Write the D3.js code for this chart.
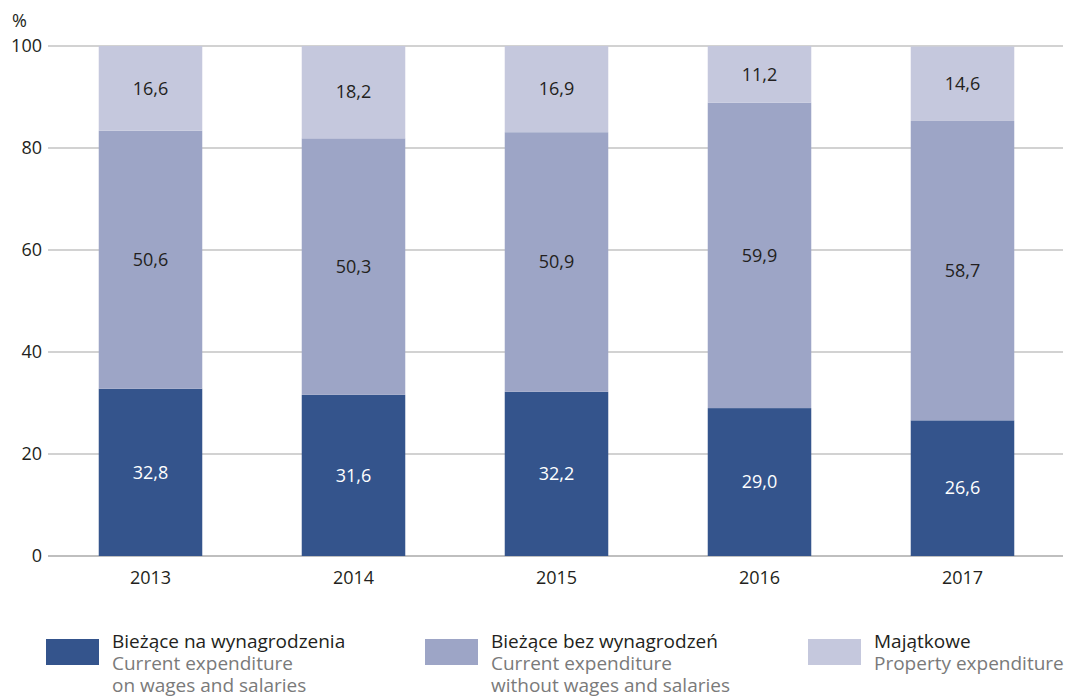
<!DOCTYPE html>
<html>
<head>
<meta charset="utf-8">
<script src="https://cdn.jsdelivr.net/npm/d3@7"></script>
<style>
  body { margin: 0; background: #fff; }
  text { font-family: "Open Sans", "Noto Sans", sans-serif; }
</style>
</head>
<body>
<div id="content"></div>
<script>
// Data.
var years = ["2013", "2014", "2015", "2016", "2017"];
var wages = [32.8, 31.6, 32.2, 29.0, 26.6];
var noWages = [50.6, 50.3, 50.9, 59.9, 58.7];
var property = [16.6, 18.2, 16.9, 11.2, 14.6];
var yTicks = [0, 20, 40, 60, 80, 100];

var seriesNames = [
  {pl : "Bieżące na wynagrodzenia", en : ["Current expenditure", "on wages and salaries"]},
  {pl : "Bieżące bez wynagrodzeń", en : ["Current expenditure", "without wages and salaries"]},
  {pl : "Majątkowe", en : ["Property expenditure"]}
];
var colors = ["#34548c", "#9da5c6", "#c5c8dd"];
var labelColors = ["#ffffff", "#231f20", "#231f20"];

var width = 1066, height = 699;

var svg = d3.select('#content')
              .append('svg')
              .attr('width', width)
              .attr('height', height);

// Table for stacking.
var table = years.map(function(y, i) {
  return {year : y, s0 : wages[i], s1 : noWages[i], s2 : property[i]};
});
var stack = d3.stack().keys(["s0", "s1", "s2"])(table);

// Scales.
var x = d3.scaleBand()
          .domain(years)
          .range([ 49, 1064 ])
          .paddingInner(0.49)
          .paddingOuter(0.245);

var y = d3.scaleLinear().domain([ 0, 100 ]).range([ 556, 46 ]);

// Grid lines.
svg.append('g')
    .selectAll('line')
    .data(yTicks)
    .join('line')
    .attr('x1', 48)
    .attr('x2', 1063)
    .attr('y1', function(d) { return y(d); })
    .attr('y2', function(d) { return y(d); })
    .attr('stroke', function(d) { return d === 0 ? '#808080' : '#a6a6a6'; })
    .attr('stroke-width', 1.2);

// Y axis labels.
svg.append('g')
    .selectAll('text')
    .data(yTicks)
    .join('text')
    .attr('x', 42)
    .attr('y', function(d) { return y(d); })
    .attr('dy', '0.35em')
    .attr('text-anchor', 'end')
    .attr('font-size', 18)
    .attr('fill', '#231f20')
    .text(function(d) { return d; });

svg.append('text')
    .attr('x', 12)
    .attr('y', 27)
    .attr('font-size', 18)
    .attr('fill', '#231f20')
    .text('%');

// Bars.
var layers = svg.append('g')
    .selectAll('g')
    .data(stack)
    .join('g')
    .attr('fill', function(d, i) { return colors[i]; });

layers.selectAll('rect')
    .data(function(d) { return d; })
    .join('rect')
    .attr('x', function(d) { return x(d.data.year); })
    .attr('width', x.bandwidth())
    .attr('y', function(d) { return y(Math.min(d[1], 100)); })
    .attr('height', function(d) { return y(d[0]) - y(Math.min(d[1], 100)); });

// Value labels.
var fmt = function(v) { return v.toFixed(1).replace('.', ','); };
stack.forEach(function(layer, i) {
  svg.append('g')
      .selectAll('text')
      .data(layer)
      .join('text')
      .attr('x', function(d) { return x(d.data.year) + x.bandwidth() / 2; })
      .attr('y', function(d) { return (y(d[0]) + y(Math.min(d[1], 100))) / 2; })
      .attr('dy', '0.35em')
      .attr('text-anchor', 'middle')
      .attr('font-size', 18)
      .attr('fill', labelColors[i])
      .text(function(d) { return fmt(d[1] - d[0]); });
});

// X axis labels.
svg.append('g')
    .selectAll('text')
    .data(years)
    .join('text')
    .attr('x', function(d) { return x(d) + x.bandwidth() / 2; })
    .attr('y', 584)
    .attr('text-anchor', 'middle')
    .attr('font-size', 18)
    .attr('fill', '#231f20')
    .text(function(d) { return d; });

// Legend.
var legendX = [46, 425, 808];
var legend = svg.append('g')
    .selectAll('g')
    .data(seriesNames)
    .join('g')
    .attr('transform', function(d, i) { return 'translate(' + legendX[i] + ',0)'; });

legend.append('rect')
    .attr('x', 0)
    .attr('y', 639)
    .attr('width', 53)
    .attr('height', 26)
    .attr('fill', function(d, i) { return colors[i]; });

legend.append('text')
    .attr('x', 66)
    .attr('y', 648)
    .attr('font-size', 19)
    .attr('fill', '#231f20')
    .text(function(d) { return d.pl; });

legend.each(function(d) {
  d3.select(this).selectAll('text.en')
      .data(d.en)
      .join('text')
      .attr('class', 'en')
      .attr('x', 66)
      .attr('y', function(t, j) { return 670 + j * 22; })
      .attr('font-size', 19)
      .attr('fill', '#7a7a7a')
      .text(function(t) { return t; });
});
</script>
</body>
</html>
